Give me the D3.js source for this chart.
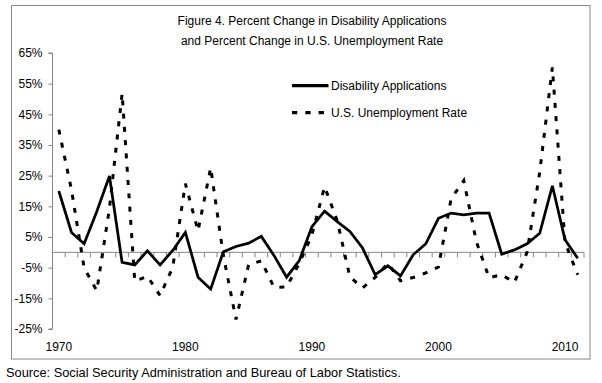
<!DOCTYPE html>
<html>
<head>
<meta charset="utf-8">
<script src="https://cdn.jsdelivr.net/npm/d3@7"></script>
<style>
  html, body { margin: 0; padding: 0; background: #fff; }
  svg { display: block; }
  text { font-family: "Liberation Sans", Arial, sans-serif; fill: #000; }
</style>
</head>
<body>
<svg id="chart" width="602" height="383"></svg>
<script>
// ---------- data ----------
const years = [1970,1971,1972,1973,1974,1975,1976,1977,1978,1979,
               1980,1981,1982,1983,1984,1985,1986,1987,1988,1989,
               1990,1991,1992,1993,1994,1995,1996,1997,1998,1999,
               2000,2001,2002,2003,2004,2005,2006,2007,2008,2009,
               2010,2011];
const disabilityApplications = [20.0, 6.5, 2.8, 13.3, 24.9, -3.3, -4.1, 0.5, -4.1, 0.6,
                                6.5, -8.1, -12.0, 0.2, 1.9, 3.0, 5.2, -1.0, -8.1, -2.7,
                                8.4, 13.4, 10.0, 6.8, 1.4, -7.3, -4.4, -7.7, -0.8, 2.8,
                                11.1, 12.8, 12.2, 12.8, 12.8, -0.6, 0.8, 2.8, 6.2, 21.7,
                                4.1, -1.9];
const unemploymentRate = [40.0, 20.4, -5.1, -12.5, 14.3, 51.8, -9.4, -7.8, -14.1, -4.9,
                          22.4, 7.0, 27.6, -1.0, -21.9, -4.0, -2.8, -11.4, -11.3, -3.6,
                          5.7, 21.4, 10.3, -8.0, -11.6, -8.2, -3.6, -9.3, -8.2, -6.7,
                          -4.8, 17.5, 23.4, 3.4, -8.3, -7.3, -9.8, 0.0, 26.1, 60.3,
                          3.2, -7.3];
const yTicks = [-25, -15, -5, 5, 15, 25, 35, 45, 55, 65];
const xLabelYears = [1970, 1980, 1990, 2000, 2010];
const seriesNames = ["Disability Applications", "U.S. Unemployment Rate"];
const titleLines = ["Figure 4. Percent Change in Disability Applications",
                    "and Percent Change in U.S. Unemployment Rate"];
const sourceText = "Source: Social Security Administration and Bureau of Labor Statistics.";

// ---------- layout ----------
const svg = d3.select("#chart");
const plot = { left: 52.5, right: 584, top: 53, bottom: 329 };
const axisColor = "#868686";

svg.append("rect")
  .attr("x", 11.5).attr("y", 5.5).attr("width", 578.5).attr("height", 353.5)
  .attr("fill", "#fff").attr("stroke", "#888").attr("stroke-width", 1);

const x = d3.scaleBand().domain(years).range([plot.left, plot.right]).paddingInner(0).paddingOuter(0);
const xc = d => x(d) + x.bandwidth() / 2;
const y = d3.scaleLinear().domain([-25, 65]).range([plot.bottom, plot.top]);

// title
svg.append("g").selectAll("text").data(titleLines).join("text")
  .attr("x", 312).attr("y", (d, i) => 25 + i * 19.5)
  .attr("text-anchor", "middle").attr("font-size", 12)
  .text(d => d);

// y axis
const yAxis = d3.axisLeft(y).tickValues(yTicks).tickSize(4).tickPadding(6)
  .tickFormat(d => d + "%");
const gy = svg.append("g").attr("transform", `translate(${plot.left},0)`).call(yAxis);
gy.select(".domain").attr("stroke", axisColor).attr("d", `M-4,${y(65)}H0V${y(-25)}H-4`);
gy.selectAll(".tick line").attr("stroke", axisColor);
gy.selectAll(".tick text").attr("font-size", 12).attr("font-family", "Liberation Sans, Arial, sans-serif").attr("fill", "#000");

// zero line with category ticks
const gx = svg.append("g");
gx.append("line").attr("x1", plot.left).attr("x2", plot.right)
  .attr("y1", y(0)).attr("y2", y(0)).attr("stroke", axisColor).attr("stroke-width", 1);
gx.selectAll("line.cat").data(years).join("line").attr("class", "cat")
  .attr("x1", d => x(d) + x.bandwidth()).attr("x2", d => x(d) + x.bandwidth())
  .attr("y1", y(0)).attr("y2", y(0) + 5).attr("stroke", axisColor);

// year labels
svg.append("g").selectAll("text").data(xLabelYears).join("text")
  .attr("x", d => xc(d)).attr("y", 350.5).attr("text-anchor", "middle")
  .attr("font-size", 12).text(d => d);

// lines
const line = d3.line().x((d, i) => xc(years[i])).y(d => y(d));
svg.append("path").datum(unemploymentRate).attr("d", line)
  .attr("fill", "none").attr("stroke", "#000").attr("stroke-width", 3)
  .attr("stroke-dasharray", "5,8.3");
svg.append("path").datum(disabilityApplications).attr("d", line)
  .attr("fill", "none").attr("stroke", "#000").attr("stroke-width", 2.75)
  .attr("stroke-linejoin", "miter");

// legend
const lg = svg.append("g");
lg.append("line").attr("x1", 292).attr("x2", 328.5).attr("y1", 85.7).attr("y2", 85.7)
  .attr("stroke", "#000").attr("stroke-width", 3.3);
lg.append("line").attr("x1", 292).attr("x2", 326).attr("y1", 112.7).attr("y2", 112.7)
  .attr("stroke", "#000").attr("stroke-width", 3.3).attr("stroke-dasharray", "5.3,8");
lg.selectAll("text").data(seriesNames).join("text")
  .attr("x", 331).attr("y", (d, i) => 85.7 + i * 27.3).attr("dy", "0.35em")
  .attr("font-size", 12).text(d => d);

// source
svg.append("text").attr("x", 6).attr("y", 377).attr("font-size", 12.8).text(sourceText);
</script>
</body>
</html>
